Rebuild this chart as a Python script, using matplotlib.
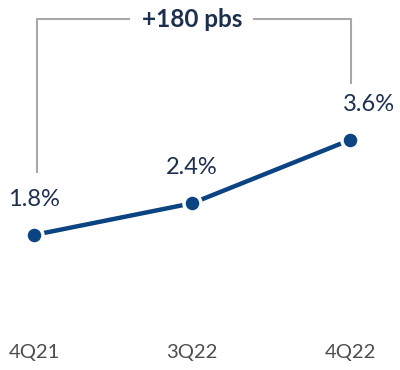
import matplotlib
matplotlib.use("Agg")
import matplotlib.pyplot as plt

# Quarterly ratio, in percent
quarters = ["4Q21", "3Q22", "4Q22"]
values = [1.8, 2.4, 3.6]
value_labels = ["1.8%", "2.4%", "3.6%"]
change_label = "+180 pbs"

LINE = "#0b4383"
TEXT = "#1d2f4f"
GREY = "#a8a8a8"
FONT = "Lato"

fig = plt.figure(figsize=(4.0, 3.7), dpi=100)
ax = fig.add_axes([0, 0, 1, 1])
ax.set_xlim(-0.215, 2.316)
ax.set_ylim(-0.757, 6.25)
ax.axis("off")

x = list(range(len(values)))
ax.plot(x, values, color=LINE, lw=3.2, solid_capstyle="butt", zorder=2)
ax.scatter(x, values, s=150, color=LINE, edgecolors="white", linewidths=2.5,
           zorder=3)

# value labels above each point
offsets = [(0, 0.67), (0, 0.67), (0.12, 0.67)]
for xi, v, lab, (dx, dy) in zip(x, values, value_labels, offsets):
    ax.text(xi + dx, v + dy, lab, ha="center", va="center", fontsize=17,
            color=TEXT, family=FONT)

# category labels along the bottom
for xi, q in zip(x, quarters):
    ax.text(xi, -0.43, q, ha="center", va="center", fontsize=14.5,
            color="#4d4d4d", family=FONT)

# bracket from first to last point with the change in the middle
top = 5.89
lx, rx = x[0] + 0.02, x[-1] + 0.005
ax.plot([lx, lx, 0.6], [values[0] + 1.19, top, top], color=GREY, lw=1.5,
        zorder=1)
ax.plot([1.39, rx, rx], [top, top, values[-1] + 1.08], color=GREY, lw=1.5,
        zorder=1)
ax.text(1.0, top, change_label, ha="center", va="center", fontsize=17.5,
        fontweight="bold", color=TEXT, family=FONT)

fig.savefig("out.png", dpi=100)
